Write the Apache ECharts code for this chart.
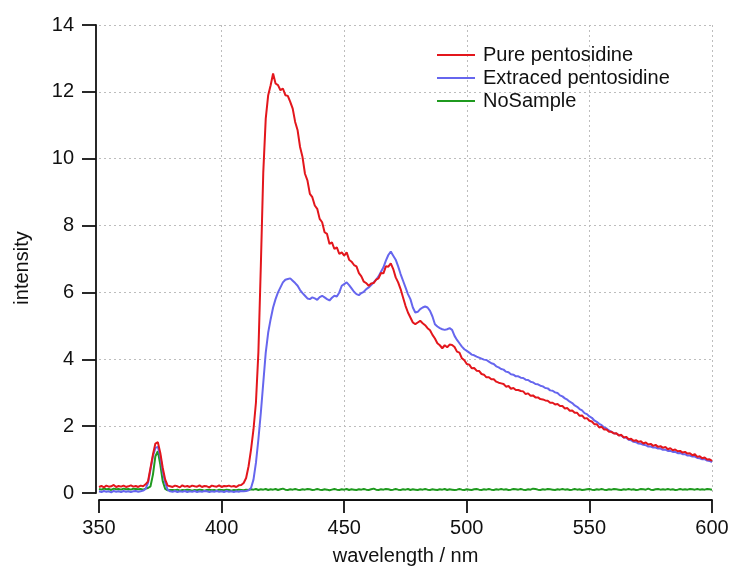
<!DOCTYPE html>
<html>
<head>
<meta charset="utf-8">
<script src="https://cdn.jsdelivr.net/npm/echarts@6/dist/echarts.min.js"></script>
<style>
html,body{margin:0;padding:0;background:#fff;}
#chart{width:732px;height:569px;}
</style>
</head>
<body>
<div id="chart"></div>
<script>
const wavelengths = [
350,351,352,353,354,355,356,357,358,359,
360,361,362,363,364,365,366,367,368,369,
370,371,372,373,374,375,376,377,378,379,
380,381,382,383,384,385,386,387,388,389,
390,391,392,393,394,395,396,397,398,399,
400,401,402,403,404,405,406,407,408,409,
410,411,412,413,414,415,416,417,418,419,
420,421,422,423,424,425,426,427,428,429,
430,431,432,433,434,435,436,437,438,439,
440,441,442,443,444,445,446,447,448,449,
450,451,452,453,454,455,456,457,458,459,
460,461,462,463,464,465,466,467,468,469,
470,471,472,473,474,475,476,477,478,479,
480,481,482,483,484,485,486,487,488,489,
490,491,492,493,494,495,496,497,498,499,
500,501,502,503,504,505,506,507,508,509,
510,511,512,513,514,515,516,517,518,519,
520,521,522,523,524,525,526,527,528,529,
530,531,532,533,534,535,536,537,538,539,
540,541,542,543,544,545,546,547,548,549,
550,551,552,553,554,555,556,557,558,559,
560,561,562,563,564,565,566,567,568,569,
570,571,572,573,574,575,576,577,578,579,
580,581,582,583,584,585,586,587,588,589,
590,591,592,593,594,595,596,597,598,599,600
];

const purePentosidine = [
0.18,0.21,0.17,0.22,0.19,0.20,0.24,0.18,0.21,0.19,
0.22,0.18,0.20,0.23,0.19,0.21,0.18,0.22,0.20,0.26,
0.35,0.75,1.15,1.48,1.52,1.20,0.75,0.40,0.22,0.20,
0.18,0.22,0.20,0.17,0.23,0.19,0.21,0.18,0.22,0.20,
0.19,0.23,0.18,0.21,0.20,0.17,0.22,0.20,0.19,0.23,
0.18,0.21,0.20,0.22,0.19,0.21,0.18,0.23,0.24,0.30,
0.45,0.80,1.30,1.90,2.70,4.20,6.80,9.60,11.2,11.9,
12.2,12.55,12.25,12.2,12.05,12.1,11.9,11.88,11.7,11.5,
11.1,10.85,10.35,10.05,9.55,9.35,8.95,8.85,8.6,8.5,
8.2,8.1,7.8,7.75,7.45,7.5,7.3,7.35,7.15,7.2,
7.1,7.2,6.98,6.92,6.82,6.78,6.58,6.48,6.32,6.28,
6.2,6.27,6.28,6.38,6.42,6.58,6.57,6.78,6.77,6.87,
6.7,6.45,6.3,6.1,5.85,5.6,5.4,5.25,5.1,5.05,
5.1,5.15,5.08,5.02,4.93,4.87,4.73,4.62,4.48,4.42,
4.33,4.42,4.36,4.44,4.43,4.37,4.23,4.2,4.03,3.97,
3.86,3.84,3.73,3.74,3.66,3.65,3.56,3.54,3.46,3.46,
3.4,3.4,3.33,3.3,3.28,3.26,3.18,3.2,3.12,3.14,
3.08,3.08,3.05,3.04,2.96,2.98,2.91,2.92,2.86,2.86,
2.81,2.8,2.77,2.76,2.7,2.7,2.65,2.66,2.6,2.6,
2.53,2.54,2.46,2.47,2.4,2.4,2.31,2.32,2.23,2.24,
2.16,2.14,2.06,2.06,1.96,1.98,1.9,1.9,1.83,1.83,
1.78,1.79,1.72,1.74,1.66,1.68,1.61,1.62,1.56,1.58,
1.53,1.55,1.48,1.51,1.45,1.47,1.41,1.44,1.38,1.4,
1.35,1.38,1.31,1.34,1.28,1.3,1.25,1.26,1.21,1.23,
1.18,1.19,1.13,1.16,1.08,1.1,1.04,1.06,1.0,1.01,0.96
];

const extractedPentosidine = [
0.05,0.03,0.06,0.04,0.05,0.02,0.06,0.04,0.05,0.03,
0.06,0.04,0.05,0.03,0.05,0.06,0.04,0.05,0.07,0.12,
0.30,0.70,1.10,1.35,1.38,1.10,0.65,0.30,0.10,0.05,
0.04,0.06,0.03,0.05,0.04,0.06,0.03,0.05,0.04,0.06,
0.03,0.05,0.04,0.06,0.05,0.03,0.05,0.04,0.06,0.04,
0.05,0.03,0.06,0.04,0.05,0.03,0.05,0.04,0.06,0.05,
0.06,0.08,0.15,0.40,0.90,1.60,2.40,3.30,4.20,4.80,
5.2,5.55,5.8,6.0,6.15,6.3,6.38,6.4,6.42,6.35,
6.28,6.2,6.07,5.98,5.9,5.82,5.8,5.85,5.82,5.78,
5.86,5.9,5.85,5.8,5.76,5.84,5.9,5.88,6.0,6.2,
6.25,6.3,6.22,6.12,6.02,5.95,5.92,5.98,6.02,6.1,
6.15,6.22,6.3,6.38,6.48,6.62,6.75,6.95,7.12,7.22,
7.1,6.98,6.78,6.55,6.35,6.15,5.95,5.8,5.55,5.4,
5.42,5.5,5.55,5.58,5.55,5.45,5.28,5.05,4.98,4.93,
4.9,4.88,4.9,4.93,4.88,4.7,4.58,4.48,4.38,4.3,
4.25,4.2,4.14,4.12,4.08,4.05,4.02,3.99,3.98,3.93,
3.88,3.86,3.79,3.76,3.71,3.69,3.63,3.61,3.55,3.54,
3.49,3.49,3.45,3.44,3.39,3.38,3.33,3.31,3.26,3.25,
3.21,3.19,3.14,3.13,3.07,3.06,3.01,2.99,2.92,2.89,
2.83,2.79,2.73,2.69,2.62,2.58,2.51,2.47,2.39,2.36,
2.29,2.25,2.17,2.13,2.07,2.03,1.96,1.93,1.87,1.83,
1.79,1.78,1.73,1.72,1.66,1.65,1.59,1.58,1.53,1.52,
1.48,1.47,1.44,1.43,1.39,1.39,1.36,1.36,1.33,1.33,
1.29,1.3,1.26,1.26,1.23,1.23,1.19,1.2,1.16,1.16,
1.12,1.12,1.09,1.09,1.05,1.04,1.01,1.01,0.97,0.96,0.92
];

const noSample = [
0.12,0.10,0.13,0.11,0.12,0.09,0.13,0.11,0.12,0.10,
0.13,0.11,0.12,0.10,0.13,0.12,0.11,0.12,0.10,0.13,
0.15,0.20,0.55,1.10,1.25,0.85,0.35,0.12,0.08,0.09,
0.09,0.08,0.10,0.07,0.09,0.08,0.10,0.09,0.07,0.09,
0.08,0.10,0.09,0.07,0.09,0.10,0.08,0.09,0.07,0.10,
0.09,0.08,0.10,0.09,0.07,0.09,0.08,0.10,0.09,0.08,
0.10,0.09,0.11,0.10,0.12,0.09,0.11,0.10,0.12,0.09,
0.11,0.10,0.12,0.09,0.11,0.13,0.10,0.09,0.11,0.10,
0.12,0.10,0.09,0.11,0.10,0.12,0.11,0.09,0.10,0.12,
0.10,0.09,0.11,0.10,0.08,0.10,0.12,0.10,0.09,0.11,
0.10,0.12,0.09,0.11,0.10,0.09,0.11,0.10,0.12,0.10,
0.09,0.11,0.13,0.10,0.09,0.11,0.10,0.12,0.11,0.09,
0.10,0.12,0.10,0.09,0.11,0.10,0.12,0.09,0.11,0.10,
0.09,0.11,0.10,0.12,0.10,0.09,0.11,0.10,0.09,0.11,
0.10,0.12,0.09,0.11,0.10,0.09,0.10,0.12,0.10,0.09,
0.11,0.10,0.09,0.11,0.12,0.10,0.09,0.11,0.10,0.12,
0.10,0.09,0.11,0.10,0.12,0.10,0.11,0.09,0.10,0.12,
0.11,0.10,0.12,0.10,0.09,0.11,0.10,0.13,0.12,0.10,
0.09,0.11,0.10,0.12,0.11,0.10,0.09,0.11,0.10,0.12,
0.10,0.11,0.09,0.10,0.12,0.10,0.11,0.09,0.10,0.11,
0.12,0.10,0.09,0.11,0.10,0.12,0.10,0.09,0.11,0.10,
0.12,0.11,0.10,0.09,0.11,0.10,0.12,0.10,0.11,0.09,
0.10,0.12,0.11,0.10,0.13,0.10,0.09,0.11,0.12,0.10,
0.11,0.10,0.12,0.10,0.11,0.09,0.10,0.12,0.10,0.11,
0.10,0.12,0.11,0.10,0.12,0.10,0.11,0.10,0.12,0.11,0.10
];

const seriesNames = ['Pure pentosidine', 'Extraced pentosidine', 'NoSample'];
const seriesValues = [purePentosidine, extractedPentosidine, noSample];
const seriesColors = ['#e3161c', '#6666ee', '#1f9a1f'];

const FONT = '"Liberation Sans", Arial, Helvetica, sans-serif';

const chart = echarts.init(document.getElementById('chart'), null, {renderer: 'canvas'});
chart.setOption({
  animation: false,
  backgroundColor: '#ffffff',
  textStyle: {fontFamily: FONT},
  grid: {left: 99, right: 20, top: 25, bottom: 76, containLabel: false, outerBoundsMode: 'none'},
  legend: {
    left: 437, top: 45, orient: 'vertical', padding: 0,
    itemWidth: 38, itemHeight: 2, itemGap: 3, icon: 'rect',
    data: seriesNames,
    textStyle: {fontFamily: FONT, fontSize: 20, color: '#111', padding: [0, 0, 0, 3]}
  },
  xAxis: {
    type: 'value', min: 350, max: 600, interval: 50, offset: 7,
    name: 'wavelength / nm', nameLocation: 'middle', nameGap: 46,
    nameTextStyle: {fontFamily: FONT, fontSize: 20, color: '#111'},
    axisLine: {show: true, onZero: false, lineStyle: {color: '#111', width: 1.8}},
    axisTick: {show: true, inside: false, length: 13, lineStyle: {color: '#111', width: 1.8}},
    axisLabel: {fontFamily: FONT, fontSize: 20, color: '#111', margin: 18},
    splitLine: {show: true, showMinLine: false, lineStyle: {color: '#bdbdbd', type: [2, 3], width: 1}}
  },
  yAxis: {
    type: 'value', min: 0, max: 14, interval: 2, offset: 3,
    name: 'intensity', nameLocation: 'middle', nameGap: 64,
    nameTextStyle: {fontFamily: FONT, fontSize: 20, color: '#111', padding: [0, 18, 0, 0]},
    axisLine: {show: true, onZero: false, lineStyle: {color: '#111', width: 1.8}},
    axisTick: {show: true, inside: false, length: 14, lineStyle: {color: '#111', width: 1.8}},
    axisLabel: {fontFamily: FONT, fontSize: 20, color: '#111', margin: 22},
    splitLine: {show: true, showMinLine: false, lineStyle: {color: '#bdbdbd', type: [2, 3], width: 1}}
  },
  series: seriesNames.map((name, i) => ({
    name: name,
    type: 'line',
    showSymbol: false,
    symbol: 'none',
    color: seriesColors[i],
    lineStyle: {color: seriesColors[i], width: 2},
    data: wavelengths.map((w, j) => [w, seriesValues[i][j]]),
    z: 3 - i
  }))
});
</script>
</body>
</html>
